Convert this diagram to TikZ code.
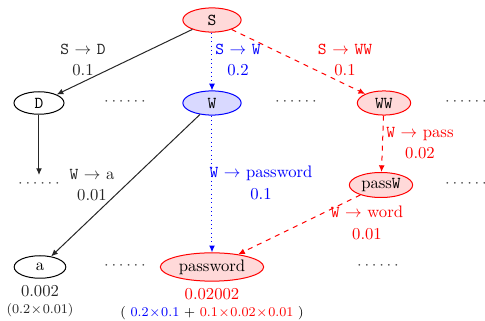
\documentclass[tikz,border=0pt]{standalone}
\usetikzlibrary{shapes.geometric,arrows.meta}
\begin{document}
\begin{tikzpicture}[x=0.6pt,y=-0.6pt,
  nt/.style={ellipse,draw,semithick,inner sep=1pt},
  rednt/.style={nt,draw=red,fill=red!15},
  bluent/.style={nt,draw=blue,fill=blue!15},
  plainnt/.style={nt,draw=black},
  dotsnode/.style={inner sep=0pt,text=black!70},
  lbl/.style={align=center,inner sep=0pt},
  tip/.style={-{Latex[length=4pt,width=3.5pt]}},
  blk/.style={tip,draw=black!85,semithick},
  blu/.style={tip,draw=blue,dotted,semithick},
  rd/.style={tip,draw=red,dashed,semithick}]
\useasboundingbox (0,0) rectangle (485,321);

% nonterminal nodes
\node[rednt,minimum width=35pt,minimum height=14.5pt] (S) at (212,20) {\texttt{S}};
\node[plainnt,minimum width=30pt,minimum height=13.5pt] (D) at (39,103) {\texttt{D}};
\node[bluent,minimum width=35pt,minimum height=14.5pt] (W) at (212,103) {\texttt{W}};
\node[rednt,minimum width=32pt,minimum height=14.5pt] (WW) at (384,103) {\texttt{WW}};
\node[rednt,minimum width=38pt,minimum height=15pt] (pW) at (381,185) {pass\texttt{W}};
\node[plainnt,minimum width=31pt,minimum height=13.5pt] (a) at (40,267) {a};
\node[rednt,minimum width=62pt,minimum height=17pt] (pw) at (212,267) {password};

% elided branches
\node[dotsnode] (d1) at (125,102) {$\cdots\cdots$};
\node[dotsnode] (d2) at (296,102) {$\cdots\cdots$};
\node[dotsnode] (d3) at (466,102) {$\cdots\cdots$};
\node[dotsnode] (d4) at (39,184) {$\cdots\cdots$};
\node[dotsnode] (d5) at (466,184) {$\cdots\cdots$};
\node[dotsnode] (d6) at (125,266) {$\cdots\cdots$};
\node[dotsnode] (d7) at (378,266) {$\cdots\cdots$};

% derivation steps
\draw[blk] (S) -- (D);
\draw[blu] (S) -- (W);
\draw[rd] (S) -- (WW);
\draw[blk] (D) -- ([yshift=3pt]d4.north);
\draw[blk] (W) -- (a);
\draw[blu] (W) -- (pw);
\draw[rd] (WW) -- (pW);
\draw[rd] (pW) -- (pw);

% rule labels with probabilities
\node[lbl,text=black!85] (l1) at (83,60) {\texttt{S} $\rightarrow$ \texttt{D}\\[1pt]0.1};
\node[lbl,text=blue] (l2) at (238,60) {\texttt{S} $\rightarrow$ \texttt{W}\\[1pt]0.2};
\node[lbl,text=red] (l3) at (345,60) {\texttt{S} $\rightarrow$ \texttt{WW}\\[1pt]0.1};
\node[lbl,text=black!85] (l4) at (92,185) {\texttt{W} $\rightarrow$ a\\[1pt]0.01};
\node[lbl,text=blue] (l5) at (261,183) {\texttt{W} $\rightarrow$ password\\[1pt]0.1};
\node[lbl,text=red] (l6) at (420,143) {\texttt{W} $\rightarrow$ pass\\[1pt]0.02};
\node[lbl,text=red] (l7) at (367,223) {\texttt{W} $\rightarrow$ word\\[1pt]0.01};

% derived string probabilities
\node[lbl,text=black!85] (p1) at (40,291) {0.002};
\node[lbl,text=black!85,font=\footnotesize] (p2) at (40,310) {$(0.2\!\times\!0.01)$};
\node[lbl,text=red] (p3) at (212,294) {0.02002};
\node[lbl,font=\footnotesize] (p4) at (212,313) {$($ \textcolor{blue}{$0.2\!\times\!0.1$} $+$ \textcolor{red}{$0.1\!\times\!0.02\!\times\!0.01$} $)$};
\end{tikzpicture}
\end{document}
